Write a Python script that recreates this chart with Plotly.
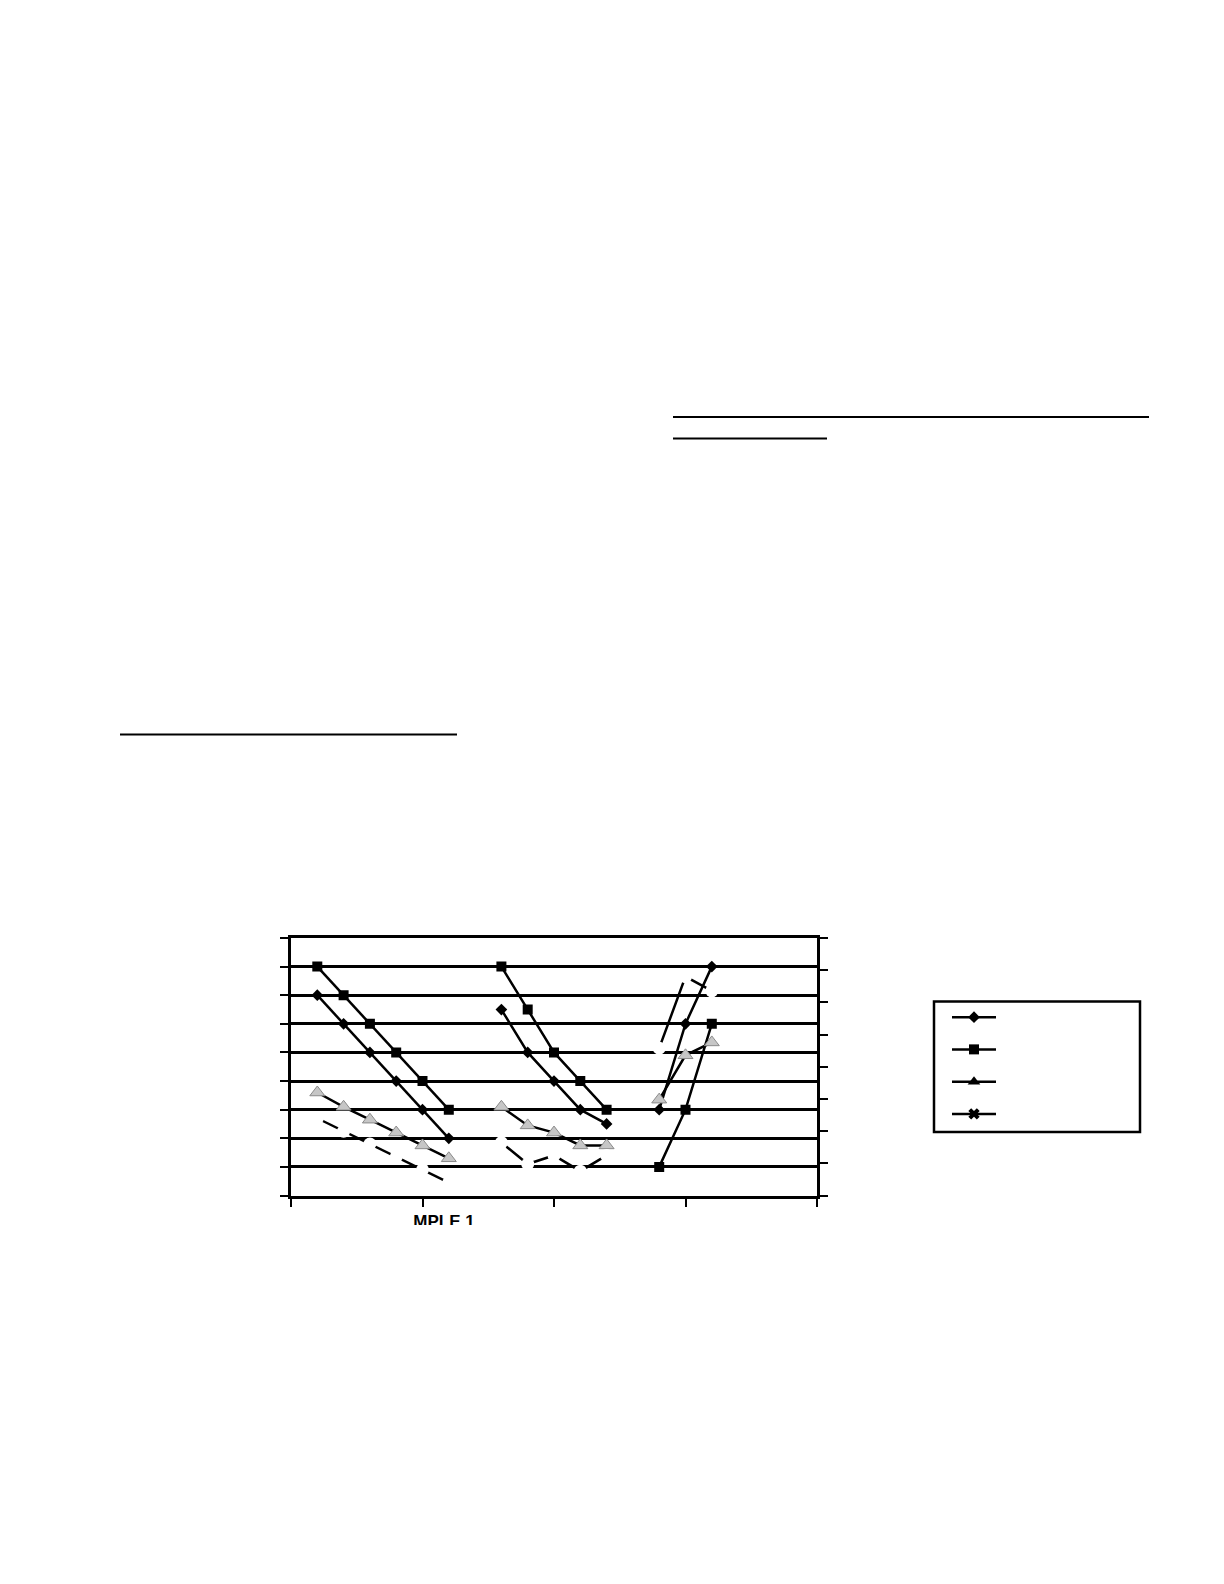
import plotly.graph_objects as go

# positions sur l'axe horizontal (None = coupure entre les trois groupes)
x_pos = [0.2, 0.4, 0.6, 0.8, 1.0, 1.2, None, 1.6, 1.8, 2.0, 2.2, 2.4, None, 2.8, 3.0, 3.2]

serie_losange = [7, 6, 5, 4, 3, 2, None, 6.5, 5, 4, 3, 2.5, None, 3, 6, 8]
serie_carre = [8, 7, 6, 5, 4, 3, None, 8, 6.5, 5, 4, 3, None, 1, 3, 6]
serie_triangle = [3.6, 3.1, 2.65, 2.2, 1.75, 1.3, None, 3.1, 2.45, 2.2, 1.75, 1.75, None, 3.35, 4.9, 5.35]
serie_croix = [2.7, 2.25, 1.8, 1.35, 0.9, 0.45, None, 1.85, 1.1, 1.4, 0.85, 1.4, None, 5.15, 7.65, 7.15]

noms_series = ["", "", "", ""]
libelle_bas = "MPLE 1"

W, H = 1224, 1584


def fx(px):
    return px / W


def fy(py):
    return (H - py) / H


NOIR = "black"
fig = go.Figure()

# courbes (les légendes sont faites plus bas)
fig.add_trace(go.Scatter(x=x_pos, y=serie_losange, mode="lines+markers", showlegend=False,
                         line=dict(color=NOIR, width=2.5),
                         marker=dict(symbol="diamond", size=9, color=NOIR)))
fig.add_trace(go.Scatter(x=x_pos, y=serie_carre, mode="lines+markers", showlegend=False,
                         line=dict(color=NOIR, width=2.5),
                         marker=dict(symbol="square", size=10, color=NOIR)))
fig.add_trace(go.Scatter(x=x_pos, y=serie_triangle, mode="lines+markers", showlegend=False,
                         line=dict(color=NOIR, width=2.5),
                         marker=dict(symbol="triangle-up", size=13, color="#c6c6c6",
                                     line=dict(color="#8a8a8a", width=1))))
fig.add_trace(go.Scatter(x=x_pos, y=serie_croix, mode="lines+markers", showlegend=False,
                         line=dict(color=NOIR, width=2.5),
                         marker=dict(symbol="circle", size=13, color="white")))

# entrées de légende
symboles = ["diamond", "square", "triangle-up", "x"]
tailles = [9, 10, 11, 10]
for nom, sym, t in zip(noms_series, symboles, tailles):
    fig.add_trace(go.Scatter(x=[None], y=[None], yaxis="y2", mode="lines+markers", name=nom,
                             line=dict(color=NOIR, width=2.5),
                             marker=dict(symbol=sym, size=t, color=NOIR)))

# libellé coupé sous l'axe
fig.add_trace(go.Scatter(x=[444], y=[H - 1222.5], xaxis="x3", yaxis="y3", mode="text",
                         text=[libelle_bas], textposition="middle center", cliponaxis=True,
                         showlegend=False,
                         textfont=dict(family="Liberation Sans", size=17, color=NOIR, weight="bold")))

axe = dict(showline=True, linewidth=3, linecolor=NOIR, ticks="outside", ticklen=8,
           tickwidth=2, tickcolor=NOIR, showticklabels=False, zeroline=False)

fig.update_layout(
    width=W, height=H,
    margin=dict(l=0, r=0, t=0, b=0),
    paper_bgcolor="white", plot_bgcolor="white",
    font=dict(family="Liberation Sans", color=NOIR),
    xaxis=dict(axe, domain=[fx(291), fx(817)], range=[0, 4], dtick=1, showgrid=False, mirror=True),
    yaxis=dict(axe, domain=[fy(1195.5), fy(938)], range=[0, 9], dtick=1, showgrid=True,
               gridcolor=NOIR, gridwidth=2.5, mirror=True),
    yaxis2=dict(axe, overlaying="y", side="right", range=[0, 8], dtick=1, showgrid=False),
    xaxis3=dict(domain=[fx(380), fx(520)], range=[380, 520], anchor="y3", visible=False),
    yaxis3=dict(domain=[fy(1225), fy(1205)], range=[H - 1225, H - 1205], anchor="x3", visible=False),
    legend=dict(x=fx(947), y=fy(996), xanchor="left", yanchor="top",
                borderwidth=0, bgcolor="rgba(0,0,0,0)",
                font=dict(size=22.5), itemwidth=44, tracegroupgap=0),
    showlegend=True,
)

# cadre de la légende
fig.add_shape(type="rect", xref="paper", yref="paper",
              x0=fx(934), x1=fx(1140), y0=fy(1132), y1=fy(1001.5),
              line=dict(color=NOIR, width=2.5), fillcolor="rgba(0,0,0,0)", layer="below")

# traits soulignés du texte de la page
for x0, x1, y in [(673, 1149, 417), (673, 827, 438.5), (120, 457, 734.5)]:
    fig.add_shape(type="line", xref="paper", yref="paper",
                  x0=fx(x0), x1=fx(x1), y0=fy(y), y1=fy(y),
                  line=dict(color=NOIR, width=2))

fig.write_html("out.html", config={"displayModeBar": False},
               post_script="document.body.style.margin='0';")
